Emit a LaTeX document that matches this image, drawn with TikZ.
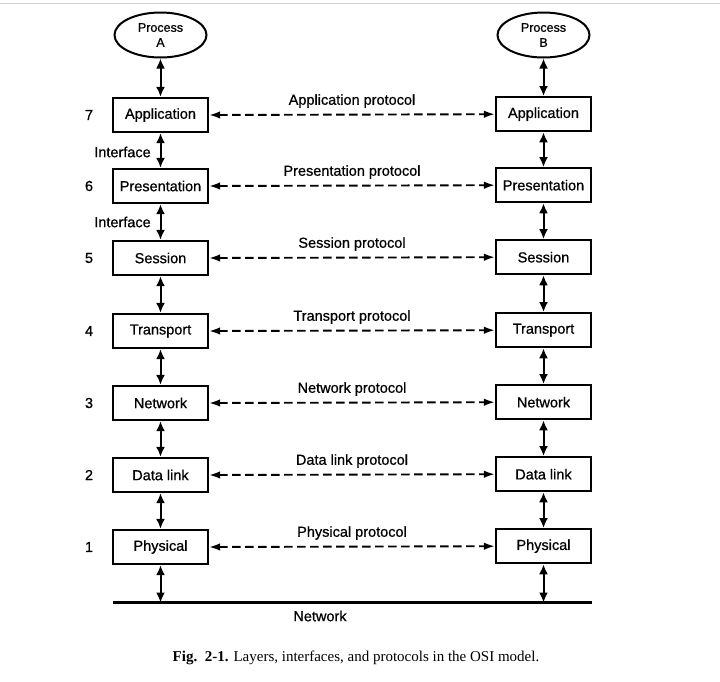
\documentclass[tikz,border=0pt]{standalone}
\usepackage{fontspec}
\setmainfont{Liberation Serif}
\newfontfamily\labelfont[BoldFont=Liberation Sans, BoldFeatures={FakeBold=0.7}]{Liberation Sans}
\usetikzlibrary{arrows.meta,shapes.geometric}

\tikzset{
  layerbox/.style={draw, line width=2.2pt, minimum width=95pt, minimum height=34pt,
    inner sep=0pt, font=\labelfont\bfseries\fontsize{14.5}{16}\selectfont},
  procell/.style={draw, ellipse, line width=2pt, minimum width=92pt, minimum height=45pt,
    inner sep=0pt, align=center, font=\labelfont\bfseries\fontsize{12.5}{15}\selectfont},
  vlink/.style={line width=2pt, {Latex[length=10pt,width=9pt]}-{Latex[length=10pt,width=9pt]}},
  plink/.style={line width=1.9pt, dash pattern=on 8.5pt off 4.5pt,
    {Latex[length=11pt,width=7.5pt]}-{Latex[length=11pt,width=7.5pt]}},
  plabel/.style={font=\labelfont\bfseries\fontsize{14.5}{16}\selectfont},
  numlabel/.style={font=\labelfont\bfseries\fontsize{14.5}{16}\selectfont},
}

\begin{document}
\begin{tikzpicture}[x=1pt,y=-1pt]
  \useasboundingbox (0,0) rectangle (720,681);
  \fill[white] (0,0) rectangle (720,681);
  \draw[line width=1pt, black!18] (0,3) -- (720,3);

  % end processes
  \node[procell] (PA) at (160.5,35) {Process\\A};
  \node[procell] (PB) at (543.5,35) {Process\\B};

  % layer stacks
  \foreach \n/\name/\y in {7/Application/115, 6/Presentation/186, 5/Session/258,
                           4/Transport/331, 3/Network/403, 2/Data link/475, 1/Physical/547}{
    \node[layerbox] (L\n) at (160.5,\y) {\name};
    \node[layerbox] (R\n) at (543.5,\y-0.8) {\name};
    \node[numlabel] (N\n) at (89,\y) {\n};
    \node[plabel] (P\n) at (352,\y-14) {\name\ protocol};
    \draw[plink] (L\n.east) -- (R\n.west);
  }

  % interfaces between adjacent layers
  \draw[vlink] (PA.south) -- (L7.north);
  \draw[vlink] (PB.south) -- (R7.north);
  \foreach \a/\b in {7/6, 6/5, 5/4, 4/3, 3/2, 2/1}{
    \draw[vlink] (L\a.south) -- (L\b.north);
    \draw[vlink] (R\a.south) -- (R\b.north);
  }

  \node[plabel] (I1) at (122.5,152) {Interface};
  \node[plabel] (I2) at (122.5,222) {Interface};

  % physical medium
  \coordinate (netL) at (113,602.5);
  \coordinate (netR) at (592,602.5);
  \draw[line width=2.2pt] (netL) -- (netR);
  \draw[vlink] (L1.south) -- (L1.south |- netL);
  \draw[vlink] (R1.south) -- (R1.south |- netL);
  \node[plabel] (NET) at (320,616) {Network};

  % caption
  \node[font=\fontsize{15}{18}\selectfont] (CAP) at (356,658)
    {\textbf{Fig.\ \ 2-1.} Layers, interfaces, and protocols in the OSI model.};
\end{tikzpicture}
\end{document}
